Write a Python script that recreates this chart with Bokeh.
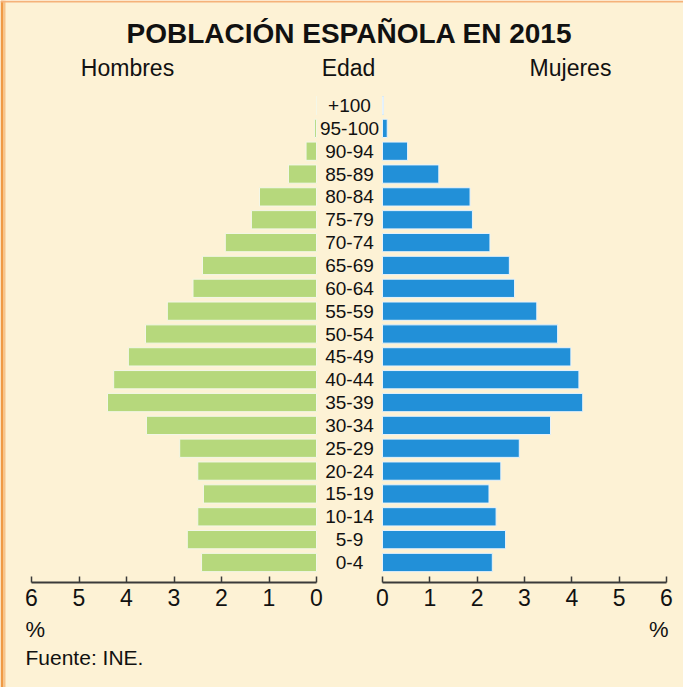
from bokeh.plotting import figure
from bokeh.models import Range1d, LinearAxis, FixedTicker, Label, BoxAnnotation, ColumnDataSource
from bokeh.core.properties import value
from bokeh.embed import file_html
from bokeh.resources import INLINE

# ---- data ----
ages = ["0-4", "5-9", "10-14", "15-19", "20-24", "25-29", "30-34", "35-39", "40-44",
        "45-49", "50-54", "55-59", "60-64", "65-69", "70-74", "75-79", "80-84",
        "85-89", "90-94", "95-100", "+100"]
hombres = [2.42, 2.72, 2.50, 2.38, 2.50, 2.88, 3.58, 4.40, 4.27, 3.96, 3.60,
           3.14, 2.60, 2.40, 1.92, 1.37, 1.20, 0.59, 0.22, 0.04, 0.0]
mujeres = [2.32, 2.60, 2.40, 2.25, 2.50, 2.89, 3.55, 4.23, 4.15, 3.98, 3.70,
           3.26, 2.79, 2.68, 2.27, 1.90, 1.85, 1.19, 0.53, 0.10, 0.02]
ticks = [0, 1, 2, 3, 4, 5, 6]
tick_labels = ["0", "1", "2", "3", "4", "5", "6"]

title = "POBLACIÓN ESPAÑOLA EN 2015"
source_txt = "Fuente: INE."

W, H = 683, 687
FONT = "Liberation Sans"
BG = "#fdf2d5"
GREEN = "#b6d87c"
BLUE = "#2290d8"
INK = "#111111"

p = figure(width=W, height=H, output_backend="svg", toolbar_location=None,
           x_range=Range1d(0, W), y_range=Range1d(H, 0),
           x_axis_type=None, y_axis_type=None, min_border=0)
p.background_fill_color = BG
p.border_fill_color = BG
p.outline_line_color = None
p.grid.visible = False

p.extra_x_ranges = {
    "male": Range1d(316 / 47.5, (316 - W) / 47.5),
    "female": Range1d(-382 / 47.33, (W - 382) / 47.33),
}
p.extra_y_ranges = {"age": Range1d((562 - H) / 22.85, 562 / 22.85)}

idx = list(range(len(ages)))
src = ColumnDataSource(dict(y=idx, age=ages, h=hombres, m=mujeres))

p.hbar(y="y", left=0, right="h", height=0.8, source=src,
       x_range_name="male", y_range_name="age",
       fill_color=GREEN, line_color="#f4f7e8", line_width=1)
p.hbar(y="y", left=0, right="m", height=0.8, source=src,
       x_range_name="female", y_range_name="age",
       fill_color=BLUE, line_color="#e8f3fb", line_width=1)

p.text(x=349, y="y", text="age", source=src, y_range_name="age",
       text_align="center", text_baseline="middle",
       text_font=value(FONT), text_font_size="19px", text_color=INK)

for rn in ("male", "female"):
    ax = LinearAxis(x_range_name=rn, fixed_location=582, bounds=(0, 6),
                    ticker=FixedTicker(ticks=ticks),
                    major_label_overrides={t: l for t, l in zip(ticks, tick_labels)})
    ax.axis_line_color = "#3a3a3a"
    ax.axis_line_width = 2
    ax.major_tick_line_color = "#3a3a3a"
    ax.major_tick_line_width = 1.5
    ax.major_tick_in = 6
    ax.major_tick_out = 0
    ax.minor_tick_line_color = None
    ax.major_label_standoff = 6
    ax.major_label_text_font = FONT
    ax.major_label_text_font_size = "23px"
    ax.major_label_text_color = INK
    p.add_layout(ax, "below")

def lab(x, y, t, size, align="center", style="normal"):
    p.add_layout(Label(x=x, y=y, text=t, text_align=align, text_baseline="middle",
                       text_font=FONT, text_font_size=size, text_font_style=style,
                       text_color=INK))

lab(349, 33, title, "28px", style="bold")
lab(127, 67, "Hombres", "23px")
lab(348, 67, "Edad", "23px")
lab(570, 67, "Mujeres", "23px")
lab(25, 629, "%", "22px", align="left")
lab(668, 629, "%", "22px", align="right")
lab(25, 657, source_txt, "21px", align="left")

# frame decoration
p.add_layout(BoxAnnotation(left=0, right=3, top=0, bottom=H, fill_color="#ef9a45",
                           fill_alpha=1, line_color=None))
p.add_layout(BoxAnnotation(left=3, right=5, top=0, bottom=H, fill_color="#f7c48a",
                           fill_alpha=1, line_color=None))
p.add_layout(BoxAnnotation(left=0, right=W, top=0, bottom=2, fill_color="#f5b27a",
                           fill_alpha=1, line_color=None))

open("out.html", "w").write(file_html(p, INLINE))
